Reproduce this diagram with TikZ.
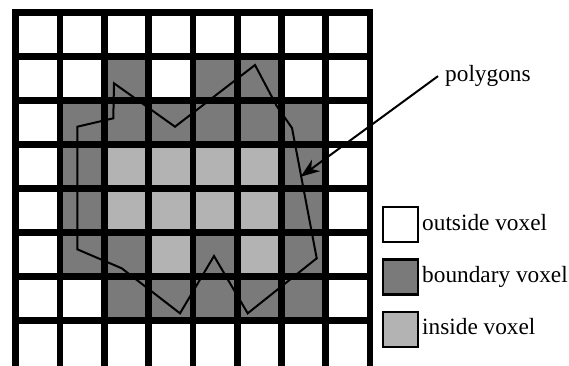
\documentclass[tikz,border=0pt]{standalone}
\usepackage{fontspec}
\setmainfont{Liberation Serif}
\usetikzlibrary{arrows.meta}
\definecolor{bnd}{RGB}{122,122,122}
\definecolor{ins}{RGB}{179,179,179}
\tikzset{
  gridline/.style={line width=6.7pt, line cap=rect},
  polyline/.style={line width=2pt, line join=miter},
  pointer/.style={line width=2pt, -{Stealth[length=19pt,width=14pt,inset=6pt]}},
  legbox/.style={draw, line width=2.5pt, minimum width=35pt, minimum height=35pt, inner sep=0pt},
  legtext/.style={anchor=base west, inner sep=0pt, font=\fontsize{23.3}{27}\selectfont},
}
\begin{document}
\begin{tikzpicture}[x=1pt,y=-1pt]
\useasboundingbox (0,0) rectangle (569,365);
\fill[white] (0,0) rectangle (569,365);
\begin{scope}
\clip (0,0) rectangle (569,365);
% dark (boundary) cells: row/col
\foreach \r/\c in {1/2,1/4,1/5,2/1,2/2,2/3,2/4,2/5,2/6,3/1,3/6,4/1,4/6,5/1,5/2,5/4,5/6,6/2,6/3,6/4,6/5,6/6}
  \fill[bnd] ({15.7+44.29*\c},{12.7+44*\r}) rectangle ++(44.29,44);
% light (inside) cells
\foreach \r/\c in {3/2,3/3,3/4,3/5,4/2,4/3,4/4,4/5,5/3,5/5}
  \fill[ins] ({15.7+44.29*\c},{12.7+44*\r}) rectangle ++(44.29,44);
% grid (the bottom border lies just outside the picture)
\foreach \i in {0,...,8}
  \draw[gridline] ({15.7+44.29*\i},12.7) -- ({15.7+44.29*\i},372);
\foreach \i in {0,...,7}
  \draw[gridline] (15.7,{12.7+44*\i}) -- (370,{12.7+44*\i});
\end{scope}
% polygon
\draw[polyline] (114,83.3) -- (175,126.7) -- (255,65) -- (276.7,106) -- (292,128)
  -- (316.7,258.3) -- (247.7,313.3) -- (214,256) -- (180,313.3) -- (121.7,268.3)
  -- (77.3,249.3) -- (77.3,126.7) -- (113.3,118.3) -- cycle;
% label and arrow
\node[legtext, inner xsep=7pt] (poly) at (438,81.7) {polygons};
\coordinate (tip) at (300.7,176.7);
\draw[pointer] (poly.west) -- (tip);
% legend
\node[legbox, fill=white] (l1) at (400.5,224.5) {};
\node[legbox, fill=bnd] (l2) at (400.5,277) {};
\node[legbox, fill=ins] (l3) at (400.5,329.5) {};
\node[legtext] (t1) at (422,230.7) {outside voxel};
\node[legtext] (t2) at (422,282.7) {boundary voxel};
\node[legtext] (t3) at (422,334.2) {inside voxel};
\end{tikzpicture}
\end{document}
